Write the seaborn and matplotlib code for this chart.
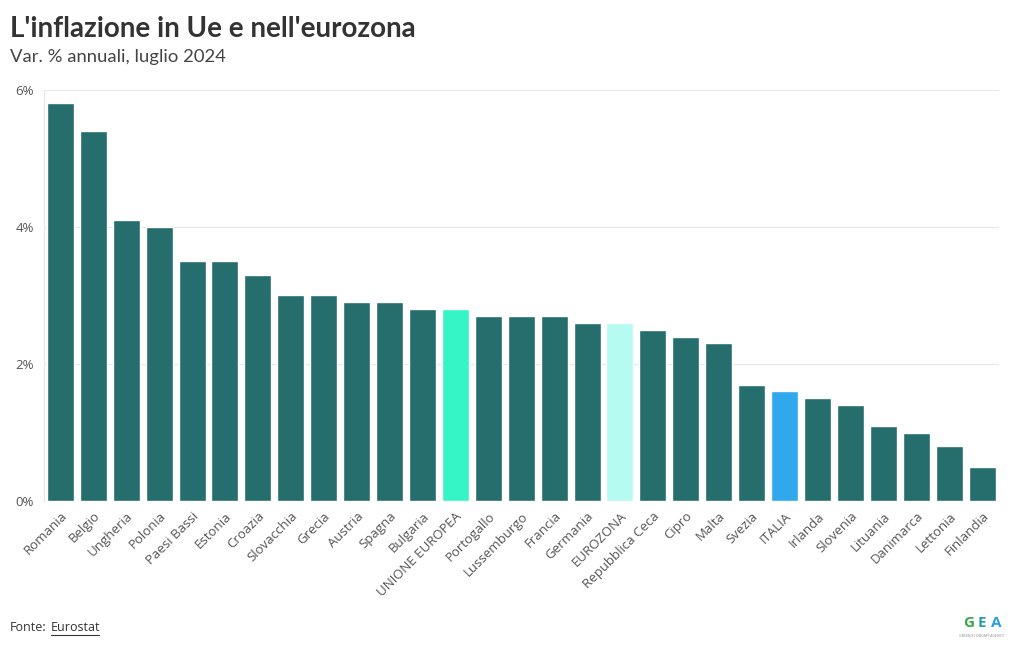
import matplotlib
matplotlib.use("Agg")
import matplotlib.pyplot as plt
import seaborn as sns
import pandas as pd
from matplotlib.lines import Line2D

# Data: annual inflation, July 2024 (Eurostat)
paesi = ["Romania", "Belgio", "Ungheria", "Polonia", "Paesi Bassi", "Estonia",
         "Croazia", "Slovacchia", "Grecia", "Austria", "Spagna", "Bulgaria",
         "UNIONE EUROPEA", "Portogallo", "Lussemburgo", "Francia", "Germania",
         "EUROZONA", "Repubblica Ceca", "Cipro", "Malta", "Svezia", "ITALIA",
         "Irlanda", "Slovenia", "Lituania", "Danimarca", "Lettonia", "Finlandia"]
inflazione = [5.8, 5.4, 4.1, 4.0, 3.5, 3.5, 3.3, 3.0, 3.0, 2.9, 2.9, 2.8,
              2.8, 2.7, 2.7, 2.7, 2.6, 2.6, 2.5, 2.4, 2.3, 1.7, 1.6,
              1.5, 1.4, 1.1, 1.0, 0.8, 0.5]
y_ticks = [0, 2, 4, 6]
y_tick_labels = ["0%", "2%", "4%", "6%"]

colore_base = "#266d6d"
colori_speciali = {"UNIONE EUROPEA": "#35f5c6", "EUROZONA": "#b5fbf1", "ITALIA": "#2fa8ee"}

df = pd.DataFrame({"paese": paesi, "valore": inflazione})
palette = {p: colori_speciali.get(p, colore_base) for p in paesi}

sns.set_style("white")
plt.rcParams["font.family"] = ["Open Sans", "DejaVu Sans"]

fig = plt.figure(figsize=(10.2, 6.5), dpi=100)
ax = fig.add_axes([0.043, 0.229, 0.936, 0.633])

sns.barplot(data=df, x="paese", y="valore", hue="paese", palette=palette,
            legend=False, width=0.82, saturation=1, ax=ax)

ax.set_ylim(0, 6)
ax.set_xlim(-0.5, len(paesi) - 0.5)
ax.set_yticks(y_ticks)
ax.set_yticklabels(y_tick_labels, fontsize=9.5, color="#555555")
ax.yaxis.grid(True, color="#e8e8e8", linewidth=0.8)
ax.set_axisbelow(True)
ax.set_xlabel("")
ax.set_ylabel("")
ax.tick_params(axis="y", length=4, color="#e0e0e0", pad=3)
ax.tick_params(axis="x", length=4, color="#e0e0e0", pad=2)
plt.setp(ax.get_xticklabels(), rotation=45, ha="right", rotation_mode="anchor",
         fontsize=9.5, color="#555555")

for side in ["top", "right", "bottom"]:
    ax.spines[side].set_visible(False)
ax.spines["left"].set_color("#e0e8ec")
ax.spines["left"].set_linewidth(0.8)

# Titles
fig.text(0.010, 0.955, "L'inflazione in Ue e nell'eurozona", fontsize=20,
         fontweight="bold", color="#333333", family=["Lato", "DejaVu Sans"], va="center")
fig.text(0.010, 0.913, "Var. % annuali, luglio 2024", fontsize=13.3,
         color="#444444", family=["Lato", "DejaVu Sans"], va="center")

# Source
fig.text(0.010, 0.035, "Fonte:", fontsize=9, color="#333333", va="center")
fig.text(0.050, 0.035, "Eurostat", fontsize=9, color="#333333", va="center")
fig.add_artist(Line2D([0.050, 0.097], [0.023, 0.023], color="#333333", linewidth=0.8))

# Logo
fig.text(0.944, 0.042, "G", fontsize=11, fontweight="bold", color="#3aa84a", va="center")
fig.text(0.958, 0.042, "E", fontsize=11, fontweight="bold", color="#2b9ea0", va="center")
fig.text(0.972, 0.042, "A", fontsize=11, fontweight="bold", color="#2a9fe0", va="center")
fig.text(0.962, 0.022, "GREEN ECONOMY AGENCY", fontsize=2.5, color="#888888",
         ha="center", va="center")

fig.savefig("out.png", dpi=100, facecolor="white")
